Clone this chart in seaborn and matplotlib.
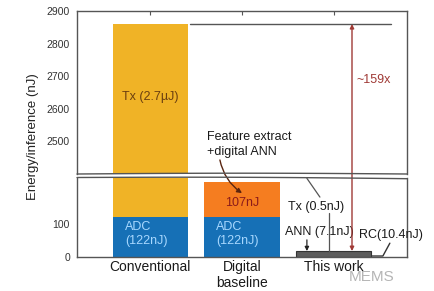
import matplotlib
matplotlib.use('Agg')
import matplotlib.pyplot as plt
import seaborn as sns
import pandas as pd
import numpy as np
from matplotlib.patches import ConnectionPatch
from matplotlib.lines import Line2D

# ---- data ----
categories = ['Conventional', 'Digital\nbaseline', 'This work']
adc_nj = [122, 122, 0]
upper_nj = [2738, 107, 0]            # Tx (conventional) / feature+ANN (digital)
this_work_parts = [10.4, 7.1, 0.5]   # RC, ANN, Tx
totals = [adc_nj[0] + upper_nj[0], adc_nj[1] + upper_nj[1], sum(this_work_parts)]
upper_ticks = [2500, 2600, 2700, 2800, 2900]
lower_ticks = [0, 100]

df = pd.DataFrame({'category': categories, 'adc': adc_nj, 'total': totals})

C_BLUE = '#1670b6'
C_YEL = '#f0b326'
C_ORG = '#f57d20'
C_GRAY = '#5c5c5c'
SPINE = '#555555'

sns.set_style('white')
plt.rcParams['font.family'] = ['Liberation Sans', 'DejaVu Sans']

W, H = 434, 291
fig = plt.figure(figsize=(W / 100, H / 100), dpi=100)

def ax_rect(x0, y0, x1, y1):
    return [x0 / W, (H - y1) / H, (x1 - x0) / W, (y1 - y0) / H]

ax_up = fig.add_axes(ax_rect(77, 11, 407, 174))
ax_lo = fig.add_axes(ax_rect(77, 178, 407, 257))

for ax in (ax_up, ax_lo):
    sns.barplot(data=df, x='category', y='total', hue='category',
                palette=[C_YEL, C_ORG, C_GRAY], width=0.82, saturation=1,
                legend=False, errorbar=None, linewidth=0, ax=ax)
    sns.barplot(data=df, x='category', y='adc', color=C_BLUE, width=0.82,
                saturation=1, errorbar=None, linewidth=0, ax=ax)
    ax.set_xlim(-0.8, 2.8)
    ax.set_xlabel('')
    ax.set_ylabel('')
    for s in ax.spines.values():
        s.set_color(SPINE)
        s.set_linewidth(1.0)
    ax.tick_params(axis='y', direction='out', length=3, width=0.8,
                   colors=SPINE, labelcolor='#333333', labelsize=7.5, pad=2)

# outline the "This work" bar
for p in ax_lo.patches:
    if p.get_height() > 0 and p.get_height() < 30:
        p.set_edgecolor('#333333')
        p.set_linewidth(0.8)

ax_up.set_ylim(2400, 2900)
ax_up.set_yticks(upper_ticks)
ax_up.spines['bottom'].set_visible(False)
ax_up.tick_params(axis='x', bottom=False, top=True, direction='in', length=3,
                  colors=SPINE, labelbottom=False, labeltop=False)

ax_lo.set_ylim(0, 240)
ax_lo.set_yticks(lower_ticks)
ax_lo.spines['top'].set_visible(False)
ax_lo.set_xticks(range(len(categories)))
ax_lo.set_xticklabels(categories)
ax_lo.tick_params(axis='x', direction='in', length=0, pad=2,
                  labelsize=10, labelcolor='#1a1a1a')

# ---- broken-axis wavy lines ----
px = np.linspace(77, 407, 100)
t = (px - 77) / 330
y_a = 174 - 0.8 * np.sin(np.pi * t)
y_b = 177.5 + 1.2 * t - 0.8 * np.sin(np.pi * t)
for yy in (y_a, y_b):
    fig.add_artist(Line2D(px / W, (H - yy) / H, color=SPINE, lw=1.0,
                          transform=fig.transFigure))

# ---- annotations ----
fs = 9
ax_up.plot([0.432, 2.624], [totals[0], totals[0]], color='#555555', lw=1.0)
ax_up.text(0, 2636, 'Tx (2.7\u00b5J)', ha='center', va='center',
           color='#6b3f10', fontsize=fs)
ax_up.text(2.25, 2688, '~159x', ha='left', va='center', color='#a03a36',
           fontsize=fs)
ax_up.text(0.62, 2490, 'Feature extract\n+digital ANN', ha='left',
           va='center', color='#1a1a1a', fontsize=fs, linespacing=1.35)

red_arrow = ConnectionPatch(xyA=(2.2, totals[2]), coordsA=ax_lo.transData,
                            xyB=(2.2, totals[0]), coordsB=ax_up.transData,
                            arrowstyle='<|-|>', mutation_scale=6,
                            color='#a03a36', lw=1.0)
fig.add_artist(red_arrow)

ax_lo.annotate('', xy=(1.0, 194), xytext=(0.759, 2443),
               textcoords=ax_up.transData,
               arrowprops=dict(arrowstyle='-|>', color='#5a2510', lw=1.0,
                               connectionstyle='arc3,rad=0.2',
                               mutation_scale=7, shrinkA=0, shrinkB=0),
               annotation_clip=False)

ax_lo.text(1.0, 164, '107nJ', ha='center', va='center', color='#8b1a1a',
           fontsize=fs)
ax_lo.text(-0.277, 70, 'ADC\n(122nJ)', ha='left', va='center',
           color='#a8d8ff', fontsize=fs, linespacing=1.3)
ax_lo.text(0.716, 70, 'ADC\n(122nJ)', ha='left', va='center',
           color='#a8d8ff', fontsize=fs, linespacing=1.3)

ax_lo.text(1.50, 152, 'Tx (0.5nJ)', ha='left', va='center', color='#1a1a1a',
           fontsize=fs)
ax_lo.text(1.47, 76, 'ANN (7.1nJ)', ha='left', va='center', color='#1a1a1a',
           fontsize=fs)
ax_lo.text(2.275, 67, 'RC(10.4nJ)', ha='left', va='center', color='#1a1a1a',
           fontsize=fs, clip_on=False)

ax_lo.plot([1.708, 1.85], [239, 182], color='#555555', lw=0.9)
ax_lo.plot([1.948, 1.948], [133, totals[2]], color='#555555', lw=0.9)
ax_lo.annotate('', xy=(1.708, totals[2]), xytext=(1.708, 52),
               arrowprops=dict(arrowstyle='-|>', color='#222222', lw=0.9,
                               mutation_scale=6, shrinkA=0, shrinkB=0))
ax_lo.plot([2.613, 2.537, 2.417], [42, 3, 3], color='#333333', lw=1.0,
           clip_on=False)

fig.text(33 / W, 1 - 137 / H, 'Energy/inference (nJ)', rotation=90,
         ha='center', va='center', fontsize=9.5, color='#222222')
fig.text(372 / W, 1 - 277 / H, 'MEMS', ha='center', va='center',
         fontsize=11, color='#b5b5b5')

fig.savefig('out.png', dpi=100)
